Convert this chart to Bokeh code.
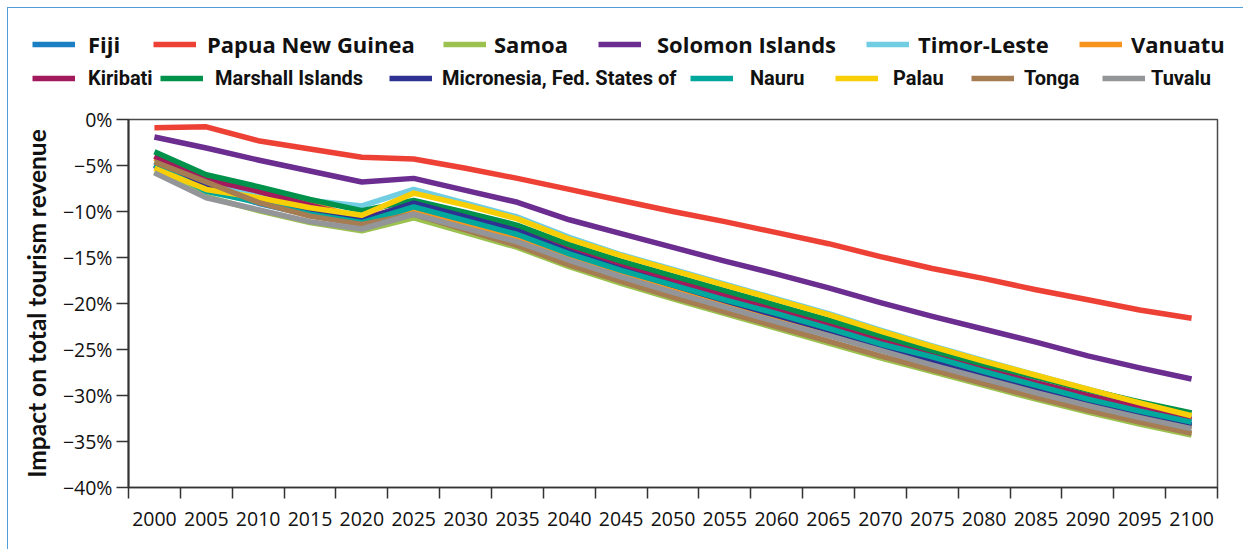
from bokeh.plotting import figure
from bokeh.models import Range1d, FixedTicker, Legend, LegendItem
from bokeh.embed import file_html
from bokeh.resources import INLINE

# ---------------- data ----------------
years = [2000, 2005, 2010, 2015, 2020, 2025, 2030, 2035, 2040, 2045, 2050,
         2055, 2060, 2065, 2070, 2075, 2080, 2085, 2090, 2095, 2100]
year_labels = ["2000", "2005", "2010", "2015", "2020", "2025", "2030", "2035", "2040", "2045", "2050",
               "2055", "2060", "2065", "2070", "2075", "2080", "2085", "2090", "2095", "2100"]

fiji = [-5.0, -7.3, -9.1, -10.4, -11.1, -9.8, -11.3, -12.8, -14.9, -16.7, -18.4,
        -20.0, -21.6, -23.2, -24.9, -26.5, -28.0, -29.5, -30.9, -32.2, -33.4]
papua_new_guinea = [-0.9, -0.8, -2.3, -3.2, -4.1, -4.3, -5.3, -6.4, -7.6, -8.8, -10.0,
                    -11.1, -12.3, -13.5, -14.9, -16.2, -17.3, -18.5, -19.6, -20.7, -21.6]
samoa = [-5.7, -8.4, -9.9, -11.2, -12.1, -10.7, -12.3, -13.9, -16.0, -17.8, -19.5,
         -21.1, -22.7, -24.3, -25.9, -27.4, -28.9, -30.4, -31.8, -33.1, -34.3]
solomon_islands = [-1.9, -3.1, -4.4, -5.6, -6.8, -6.4, -7.7, -9.0, -10.9, -12.4, -13.9,
                   -15.4, -16.8, -18.3, -19.9, -21.4, -22.8, -24.2, -25.7, -27.0, -28.2]
timor_leste = [-4.6, -7.0, -8.2, -8.8, -9.4, -7.6, -9.1, -10.6, -12.8, -14.7, -16.3,
               -17.9, -19.5, -21.1, -22.9, -24.6, -26.2, -27.8, -29.3, -30.8, -32.3]
vanuatu = [-4.2, -6.3, -7.6, -9.0, -10.9, -9.9, -11.4, -12.9, -15.0, -16.8, -18.5,
           -20.1, -21.7, -23.3, -25.0, -26.6, -28.1, -29.6, -31.0, -32.3, -33.5]
kiribati = [-4.0, -6.5, -7.8, -9.3, -10.8, -9.2, -10.6, -12.0, -14.1, -15.9, -17.5,
            -19.1, -20.7, -22.3, -24.0, -25.6, -27.1, -28.6, -30.0, -31.3, -32.6]
marshall_islands = [-3.5, -6.0, -7.3, -8.7, -9.9, -8.8, -10.1, -11.5, -13.6, -15.4, -17.0,
                    -18.6, -20.2, -21.8, -23.5, -25.1, -26.6, -28.0, -29.4, -30.7, -31.9]
micronesia = [-5.0, -7.4, -8.8, -10.0, -11.0, -9.1, -10.6, -12.1, -14.4, -16.3, -18.0,
              -19.7, -21.3, -22.9, -24.6, -26.2, -27.8, -29.3, -30.7, -32.0, -33.2]
nauru = [-4.9, -7.8, -9.0, -10.3, -11.2, -9.5, -11.0, -12.5, -14.6, -16.4, -18.0,
         -19.6, -21.1, -22.7, -24.4, -25.8, -27.4, -28.9, -30.4, -31.7, -32.9]
palau = [-5.3, -7.6, -8.5, -9.6, -10.4, -8.0, -9.3, -10.8, -13.0, -14.8, -16.4,
         -18.0, -19.6, -21.2, -23.0, -24.7, -26.3, -27.8, -29.3, -30.8, -32.2]
tonga = [-4.6, -6.8, -9.0, -10.5, -11.4, -10.3, -12.0, -13.7, -15.8, -17.6, -19.3,
         -20.9, -22.5, -24.1, -25.7, -27.2, -28.7, -30.2, -31.6, -32.9, -34.1]
tuvalu = [-5.8, -8.5, -9.8, -11.1, -11.9, -10.3, -11.8, -13.3, -15.3, -17.1, -18.8,
          -20.4, -22.0, -23.5, -25.1, -26.7, -28.2, -29.7, -31.1, -32.4, -33.6]

series_names = ["Fiji", "Papua New Guinea", "Samoa", "Solomon Islands", "Timor-Leste", "Vanuatu",
                "Kiribati", "Marshall Islands", "Micronesia, Fed. States of", "Nauru", "Palau",
                "Tonga", "Tuvalu"]
series_values = [fiji, papua_new_guinea, samoa, solomon_islands, timor_leste, vanuatu,
                 kiribati, marshall_islands, micronesia, nauru, palau, tonga, tuvalu]

y_ticks = [0, -5, -10, -15, -20, -25, -30, -35, -40]
y_tick_labels = ["0%", "\u22125%", "\u221210%", "\u221215%", "\u221220%", "\u221225%",
                 "\u221230%", "\u221235%", "\u221240%"]

# ---------------- styles ----------------
colors = ["#1b7fc3", "#ee4136", "#9bc14e", "#6b2d90", "#70cde2", "#f7941e",
          "#a21a5c", "#00924a", "#2e3192", "#00a79d", "#f8cf07", "#a67c52", "#939598"]
# (glyph left px on page, row centre px on page, text left px on page, row)
legend_layout = [(32, 44, 88, 1), (153, 44, 207, 1), (443, 44, 494, 1), (598, 44, 657, 1),
                 (866, 44, 918, 1), (1079, 44, 1131, 1),
                 (32, 78, 88, 2), (160, 78, 215, 2), (389, 78, 442, 2), (690, 78, 750, 2),
                 (835, 78, 893, 2), (971, 78, 1024, 2), (1102, 78, 1151, 2)]

ORIGIN = 8          # page px where content starts (7px margin + 1px border)
LEG_H = 90
ROW_H = 34
GLYPH_W = 43
W = 1236
MAIN_H = 452
LINE_W = 5.5
BORDER = "1px solid #4f9ed8"

# ---------------- legend strip ----------------
leg = figure(width=W, height=LEG_H, output_backend="svg", toolbar_location=None, title=None,
             x_range=Range1d(0, 1), y_range=Range1d(0, 1),
             x_axis_location=None, y_axis_location=None,
             min_border_left=0, min_border_right=0, min_border_top=0, min_border_bottom=0)
leg.styles = {"margin-left": "7px", "margin-top": "7px", "border-left": BORDER, "border-top": BORDER}
leg.xgrid.visible = False
leg.ygrid.visible = False
leg.outline_line_color = None
leg.background_fill_color = "white"
leg.border_fill_color = "white"

for (gx, cy, tx, row), name, vals, col in zip(legend_layout, series_names, series_values, colors):
    # same series again, outside this strip's ranges: only the legend swatch shows
    r = leg.line(years, vals, line_color=col, line_width=LINE_W)
    lg = Legend(items=[LegendItem(label=name, renderers=[r])],
                location=(gx - ORIGIN, LEG_H - (cy - ORIGIN) - ROW_H // 2),
                orientation="horizontal", padding=0, margin=0, spacing=0,
                glyph_width=GLYPH_W, glyph_height=ROW_H, label_height=ROW_H,
                label_standoff=tx - gx - GLYPH_W, border_line_color=None, background_fill_alpha=0,
                label_text_font_style="bold", label_text_color="#111111")
    if row == 1:
        lg.label_text_font = "Open Sans"
        lg.label_text_font_size = "22px"
    else:
        lg.label_text_font = "Roboto"
        lg.label_text_font_size = "20px"
    leg.add_layout(lg, "center")

# ---------------- main chart ----------------
p = figure(width=W, height=MAIN_H, output_backend="svg", toolbar_location=None, title=None,
           x_range=Range1d(years[0] - 2.5, years[-1] + 2.5), y_range=Range1d(-40, 0),
           min_border_left=120, min_border_right=27, min_border_top=22, min_border_bottom=62)
p.styles = {"margin-left": "7px", "border-left": BORDER}
p.xgrid.visible = False
p.ygrid.visible = False
p.background_fill_color = "white"
p.border_fill_color = "white"
p.outline_line_color = "#4a4a4a"
p.outline_line_width = 1.5

for vals, col in zip(series_values, colors):
    p.line(years, vals, line_color=col, line_width=LINE_W, line_join="round", line_cap="butt")

tick_font = "Open Sans"

xa = p.xaxis[0]
xa.ticker = FixedTicker(ticks=years, minor_ticks=[y - 2.5 for y in years] + [years[-1] + 2.5])
xa.major_label_overrides = {y: lab for y, lab in zip(years, year_labels)}
xa.major_tick_line_color = None
xa.minor_tick_line_color = "#333333"
xa.minor_tick_line_width = 1.5
xa.minor_tick_out = 11
xa.minor_tick_in = 0
xa.axis_line_color = "#333333"
xa.axis_line_width = 1.5
xa.major_label_text_font = tick_font
xa.major_label_text_font_size = "19.5px"
xa.major_label_text_color = "#111111"
xa.major_label_standoff = 13

ya = p.yaxis[0]
ya.ticker = FixedTicker(ticks=y_ticks, minor_ticks=[])
ya.major_label_overrides = {t: lab for t, lab in zip(y_ticks, y_tick_labels)}
ya.major_tick_line_color = "#333333"
ya.major_tick_line_width = 1.5
ya.major_tick_out = 12
ya.major_tick_in = 0
ya.axis_line_color = "#333333"
ya.axis_line_width = 2
ya.major_label_text_font = tick_font
ya.major_label_text_font_size = "19.5px"
ya.major_label_text_color = "#111111"
ya.major_label_standoff = 4
ya.axis_label = "Impact on total tourism revenue"
ya.axis_label_text_font = "Lato"
ya.axis_label_text_font_style = "bold"
ya.axis_label_text_font_size = "24.5px"
ya.axis_label_text_color = "#111111"
ya.axis_label_standoff = 9

open("out.html", "w").write(file_html([leg, p], INLINE))
